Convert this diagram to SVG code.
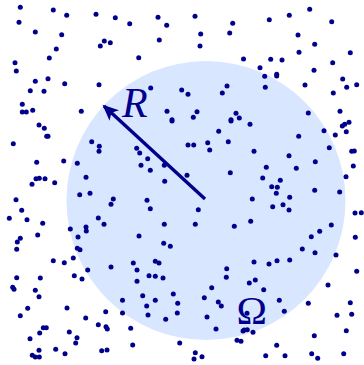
<svg xmlns="http://www.w3.org/2000/svg" width="364" height="365" viewBox="0 0 364 365">
<style>
.d{fill:#00008c}
.d circle{r:2.5px}
.lbl{fill:#00008c;font-family:"Liberation Serif","DejaVu Serif",serif}
</style>
<defs>
<marker id="ah" markerUnits="userSpaceOnUse" markerWidth="20" markerHeight="16" viewBox="-16 -8 20 16" refX="0" refY="0" orient="auto">
<path d="M2,0 L-14,-7 L-10,0 L-14,7 Z" fill="#00008c"/>
</marker>
</defs>
<rect width="364" height="365" fill="#ffffff"/>
<g id="domain">
<circle cx="206" cy="200.5" r="139.5" fill="#d9e6ff"/>
</g>
<g id="points" class="d">
<circle cx="20.3" cy="7.3" r="2.3"/><circle cx="53.3" cy="10" r="2.3"/><circle cx="66.7" cy="15.3" r="2.3"/><circle cx="96" cy="14.3" r="2.3"/><circle cx="115.3" cy="17.7" r="2.3"/><circle cx="19" cy="22.3" r="2.3"/><circle cx="35.3" cy="32" r="2.3"/><circle cx="61.7" cy="34.7" r="2.3"/><circle cx="104.3" cy="41" r="2.3"/><circle cx="110.3" cy="42.7" r="2.3"/><circle cx="100.3" cy="46" r="2.3"/><circle cx="56.3" cy="49" r="2.3"/><circle cx="49.3" cy="58" r="2.3"/><circle cx="15" cy="62.7" r="2.3"/><circle cx="16.3" cy="71" r="2.3"/><circle cx="35.3" cy="81.3" r="2.3"/><circle cx="48" cy="78.7" r="2.3"/><circle cx="64.7" cy="83.7" r="2.3"/><circle cx="99" cy="84.7" r="2.3"/><circle cx="30.3" cy="90.7" r="2.3"/><circle cx="44" cy="91.3" r="2.3"/><circle cx="22.3" cy="104.3" r="2.3"/><circle cx="22.3" cy="112" r="2.3"/><circle cx="26.3" cy="112" r="2.3"/><circle cx="32.7" cy="110.3" r="2.3"/><circle cx="81.3" cy="111.3" r="2.3"/>
<circle cx="129.7" cy="23.7" r="2.3"/><circle cx="158" cy="17.3" r="2.3"/><circle cx="166.7" cy="25.3" r="2.3"/><circle cx="195" cy="16.3" r="2.3"/><circle cx="200.7" cy="34" r="2.3"/><circle cx="200" cy="46" r="2.3"/><circle cx="232.7" cy="23.3" r="2.3"/><circle cx="229.7" cy="33" r="2.3"/><circle cx="159.3" cy="40" r="2.3"/><circle cx="138.7" cy="57.7" r="2.3"/><circle cx="243.5" cy="59" r="2.3"/><circle cx="150.7" cy="88" r="2.3"/><circle cx="181.7" cy="90" r="2.3"/><circle cx="188" cy="94.3" r="2.3"/><circle cx="227" cy="86" r="2.3"/><circle cx="222.3" cy="93" r="2.3"/><circle cx="167" cy="111.3" r="2.3"/><circle cx="172" cy="119.7" r="2.3"/><circle cx="197" cy="111.7" r="2.3"/><circle cx="193.3" cy="117.3" r="2.3"/><circle cx="236" cy="113.3" r="2.3"/><circle cx="231" cy="119.7" r="2.3"/><circle cx="239.3" cy="118" r="2.3"/>
<circle cx="269.3" cy="19.7" r="2.3"/><circle cx="289.3" cy="15.3" r="2.3"/><circle cx="309.7" cy="9.3" r="2.3"/><circle cx="331.7" cy="21.7" r="2.3"/><circle cx="298" cy="35" r="2.3"/><circle cx="314.7" cy="44.3" r="2.3"/><circle cx="299" cy="52.3" r="2.3"/><circle cx="350.3" cy="52.7" r="2.3"/><circle cx="270.7" cy="59.3" r="2.3"/><circle cx="282" cy="60" r="2.3"/><circle cx="260" cy="67.7" r="2.3"/><circle cx="332.7" cy="62.7" r="2.3"/><circle cx="264.7" cy="76.3" r="2.3"/><circle cx="276.7" cy="74.3" r="2.3"/><circle cx="276.7" cy="76" r="2.3"/><circle cx="314" cy="70.3" r="2.3"/><circle cx="265.3" cy="87.3" r="2.3"/><circle cx="305" cy="85" r="2.3"/><circle cx="342.7" cy="79" r="2.3"/><circle cx="346.7" cy="87.3" r="2.3"/><circle cx="356.7" cy="84.7" r="2.3"/><circle cx="333.3" cy="93" r="2.3"/><circle cx="308.3" cy="113" r="2.3"/><circle cx="340" cy="111.3" r="2.3"/>
<circle cx="349" cy="122.3" r="2.3"/><circle cx="344.7" cy="124.3" r="2.3"/><circle cx="342.3" cy="126" r="2.3"/><circle cx="346.3" cy="131.7" r="2.3"/><circle cx="335.3" cy="135" r="2.3"/><circle cx="324" cy="130.7" r="2.3"/><circle cx="250" cy="124.3" r="2.3"/><circle cx="298.7" cy="136.3" r="2.3"/><circle cx="254" cy="151.3" r="2.3"/><circle cx="289" cy="155.7" r="2.3"/><circle cx="329.3" cy="147.7" r="2.3"/><circle cx="351.7" cy="151.3" r="2.3"/><circle cx="354.3" cy="151" r="2.3"/><circle cx="315.3" cy="161.7" r="2.3"/><circle cx="266.3" cy="167.3" r="2.3"/><circle cx="296.3" cy="168.3" r="2.3"/><circle cx="353.3" cy="166" r="2.3"/><circle cx="262.7" cy="178" r="2.3"/><circle cx="280.3" cy="180.3" r="2.3"/><circle cx="271.7" cy="186.7" r="2.3"/><circle cx="277.3" cy="187.3" r="2.3"/><circle cx="276.3" cy="193.3" r="2.3"/><circle cx="346" cy="176.7" r="2.3"/><circle cx="314.7" cy="190.3" r="2.3"/><circle cx="339.7" cy="192" r="2.3"/><circle cx="252.3" cy="199" r="2.3"/><circle cx="289.7" cy="197.3" r="2.3"/><circle cx="272.7" cy="206.7" r="2.3"/><circle cx="283" cy="204.7" r="2.3"/><circle cx="289" cy="210" r="2.3"/><circle cx="355" cy="213" r="2.3"/><circle cx="361.3" cy="212.7" r="2.3"/><circle cx="250.7" cy="221.3" r="2.3"/><circle cx="331.3" cy="225" r="2.3"/><circle cx="319.7" cy="231.3" r="2.3"/><circle cx="311.3" cy="236.7" r="2.3"/><circle cx="355.3" cy="237.3" r="2.3"/>
<circle cx="39" cy="125" r="2.3"/><circle cx="44.3" cy="128.3" r="2.3"/><circle cx="46.7" cy="136.3" r="2.3"/><circle cx="48" cy="136.3" r="2.3"/><circle cx="13.3" cy="143.7" r="2.3"/><circle cx="91.7" cy="141.7" r="2.3"/><circle cx="99.3" cy="146.3" r="2.3"/><circle cx="99" cy="151.3" r="2.3"/><circle cx="36.7" cy="162.3" r="2.3"/><circle cx="63.7" cy="161" r="2.3"/><circle cx="77.3" cy="163.3" r="2.3"/><circle cx="86" cy="177.3" r="2.3"/><circle cx="36" cy="178.7" r="2.3"/><circle cx="39.3" cy="178.3" r="2.3"/><circle cx="45" cy="178.7" r="2.3"/><circle cx="32" cy="184.3" r="2.3"/><circle cx="54.7" cy="182.7" r="2.3"/><circle cx="79.7" cy="194.7" r="2.3"/><circle cx="90" cy="193.3" r="2.3"/><circle cx="113.3" cy="199" r="2.3"/><circle cx="111" cy="204.3" r="2.3"/><circle cx="16" cy="199.7" r="2.3"/><circle cx="21.7" cy="210.3" r="2.3"/><circle cx="9.3" cy="218.3" r="2.3"/><circle cx="27" cy="219.7" r="2.3"/><circle cx="42.7" cy="223.3" r="2.3"/><circle cx="98.3" cy="218" r="2.3"/><circle cx="104" cy="224.3" r="2.3"/><circle cx="70.3" cy="229" r="2.3"/><circle cx="86" cy="227" r="2.3"/><circle cx="86.3" cy="231" r="2.3"/><circle cx="37.7" cy="235" r="2.3"/><circle cx="20.3" cy="238.3" r="2.3"/><circle cx="17.3" cy="242" r="2.3"/><circle cx="78" cy="237" r="2.3"/>
<circle cx="172" cy="121" r="2.3"/><circle cx="218.7" cy="131.3" r="2.3"/><circle cx="231" cy="121" r="2.3"/><circle cx="136.7" cy="148.3" r="2.3"/><circle cx="139.7" cy="153" r="2.3"/><circle cx="147.7" cy="158.7" r="2.3"/><circle cx="141" cy="165.3" r="2.3"/><circle cx="150.3" cy="170.3" r="2.3"/><circle cx="164.3" cy="165.3" r="2.3"/><circle cx="188" cy="145" r="2.3"/><circle cx="193.7" cy="145" r="2.3"/><circle cx="207.7" cy="142.7" r="2.3"/><circle cx="209.7" cy="150" r="2.3"/><circle cx="228.3" cy="141.7" r="2.3"/><circle cx="187" cy="175.3" r="2.3"/><circle cx="230.3" cy="172.7" r="2.3"/><circle cx="164.7" cy="181.3" r="2.3"/><circle cx="147" cy="200.3" r="2.3"/><circle cx="150.3" cy="208.7" r="2.3"/><circle cx="198.3" cy="209.7" r="2.3"/><circle cx="164.3" cy="224.3" r="2.3"/><circle cx="195.3" cy="224.3" r="2.3"/><circle cx="234.3" cy="226.3" r="2.3"/><circle cx="139" cy="236" r="2.3"/><circle cx="163.7" cy="243.2" r="2.3"/>
<circle cx="16.7" cy="249.3" r="2.3"/><circle cx="77.3" cy="248.3" r="2.3"/><circle cx="80" cy="249.7" r="2.3"/><circle cx="53.3" cy="260.7" r="2.3"/><circle cx="64.3" cy="262.7" r="2.3"/><circle cx="73.3" cy="258" r="2.3"/><circle cx="87.7" cy="270" r="2.3"/><circle cx="111" cy="267" r="2.3"/><circle cx="16.7" cy="277.7" r="2.3"/><circle cx="40.3" cy="278" r="2.3"/><circle cx="74.3" cy="275.7" r="2.3"/><circle cx="82" cy="279" r="2.3"/><circle cx="12.7" cy="287.3" r="2.3"/><circle cx="14" cy="289.3" r="2.3"/><circle cx="35.3" cy="290.3" r="2.3"/><circle cx="39" cy="296.7" r="2.3"/><circle cx="27.7" cy="308.3" r="2.3"/><circle cx="20.3" cy="315.7" r="2.3"/><circle cx="67" cy="308" r="2.3"/><circle cx="85.7" cy="318" r="2.3"/><circle cx="105.7" cy="311.7" r="2.3"/><circle cx="122.5" cy="300.3" r="2.3"/><circle cx="122.5" cy="313" r="2.3"/><circle cx="98.3" cy="324.7" r="2.3"/><circle cx="106" cy="326.7" r="2.3"/><circle cx="107.3" cy="329" r="2.3"/><circle cx="43.3" cy="327.7" r="2.3"/><circle cx="46.3" cy="327.7" r="2.3"/><circle cx="39.7" cy="333" r="2.3"/><circle cx="69.3" cy="332" r="2.3"/><circle cx="30" cy="338.7" r="2.3"/><circle cx="77" cy="337.7" r="2.3"/><circle cx="75.7" cy="343" r="2.3"/><circle cx="39" cy="350.3" r="2.3"/><circle cx="55.7" cy="349.3" r="2.3"/><circle cx="65" cy="353.7" r="2.3"/><circle cx="101.7" cy="350.7" r="2.3"/><circle cx="107" cy="350" r="2.3"/><circle cx="32.3" cy="355.3" r="2.3"/><circle cx="35.3" cy="357" r="2.3"/><circle cx="39.3" cy="357" r="2.3"/>
<circle cx="170.3" cy="246.3" r="2.3"/><circle cx="133.3" cy="263" r="2.3"/><circle cx="137" cy="270" r="2.3"/><circle cx="155.3" cy="261.3" r="2.3"/><circle cx="159" cy="263" r="2.3"/><circle cx="149" cy="275.7" r="2.3"/><circle cx="155.3" cy="276.3" r="2.3"/><circle cx="163" cy="278" r="2.3"/><circle cx="137" cy="281.3" r="2.3"/><circle cx="226.7" cy="268.7" r="2.3"/><circle cx="226.3" cy="277.3" r="2.3"/><circle cx="211.7" cy="287.7" r="2.3"/><circle cx="173.3" cy="294" r="2.3"/><circle cx="142.7" cy="295.7" r="2.3"/><circle cx="204.3" cy="297.7" r="2.3"/><circle cx="218.3" cy="302" r="2.3"/><circle cx="221.3" cy="306" r="2.3"/><circle cx="155.3" cy="300.3" r="2.3"/><circle cx="146.7" cy="306" r="2.3"/><circle cx="177.7" cy="303.3" r="2.3"/><circle cx="148" cy="315" r="2.3"/><circle cx="177.3" cy="313" r="2.3"/><circle cx="165.7" cy="319.3" r="2.3"/><circle cx="207" cy="317" r="2.3"/><circle cx="216" cy="329" r="2.3"/><circle cx="130.7" cy="328.3" r="2.3"/><circle cx="179.7" cy="343" r="2.3"/><circle cx="132.7" cy="345" r="2.3"/><circle cx="195.3" cy="352.7" r="2.3"/><circle cx="194" cy="359" r="2.3"/><circle cx="202" cy="356.7" r="2.3"/><circle cx="237" cy="340.3" r="2.3"/><circle cx="241" cy="341.3" r="2.3"/><circle cx="243" cy="331" r="2.3"/>
<circle cx="302.3" cy="249" r="2.3"/><circle cx="315" cy="252.7" r="2.3"/><circle cx="336" cy="255" r="2.3"/><circle cx="254" cy="262" r="2.3"/><circle cx="269" cy="264" r="2.3"/><circle cx="277" cy="260.7" r="2.3"/><circle cx="289.7" cy="260" r="2.3"/><circle cx="356.7" cy="271.3" r="2.3"/><circle cx="249.3" cy="283" r="2.3"/><circle cx="255.3" cy="280" r="2.3"/><circle cx="263.7" cy="289.7" r="2.3"/><circle cx="328" cy="285" r="2.3"/><circle cx="279.3" cy="300.3" r="2.3"/><circle cx="308.3" cy="303.3" r="2.3"/><circle cx="350.3" cy="302.7" r="2.3"/><circle cx="284.3" cy="311.3" r="2.3"/><circle cx="247" cy="313.3" r="2.3"/><circle cx="337" cy="315.3" r="2.3"/><circle cx="351.7" cy="314.3" r="2.3"/><circle cx="244.3" cy="330" r="2.3"/><circle cx="247.3" cy="329.7" r="2.3"/><circle cx="253" cy="332.3" r="2.3"/><circle cx="346.3" cy="330.7" r="2.3"/><circle cx="314.3" cy="335.7" r="2.3"/><circle cx="276.7" cy="345.3" r="2.3"/><circle cx="265.7" cy="355.7" r="2.3"/><circle cx="285" cy="355.7" r="2.3"/><circle cx="311.7" cy="353.7" r="2.3"/><circle cx="317.7" cy="358.3" r="2.3"/><circle cx="343.7" cy="353.7" r="2.3"/>
</g>
<g id="connectors">
<line x1="205" y1="199" x2="104" y2="106" stroke="#00008c" stroke-width="3.4" marker-end="url(#ah)"/>
</g>
<g id="labels">
<text class="lbl" x="122" y="116.5" font-size="42" font-style="italic">R</text>
<text class="lbl" x="236.5" y="324" font-size="41">Ω</text>
</g>
</svg>
